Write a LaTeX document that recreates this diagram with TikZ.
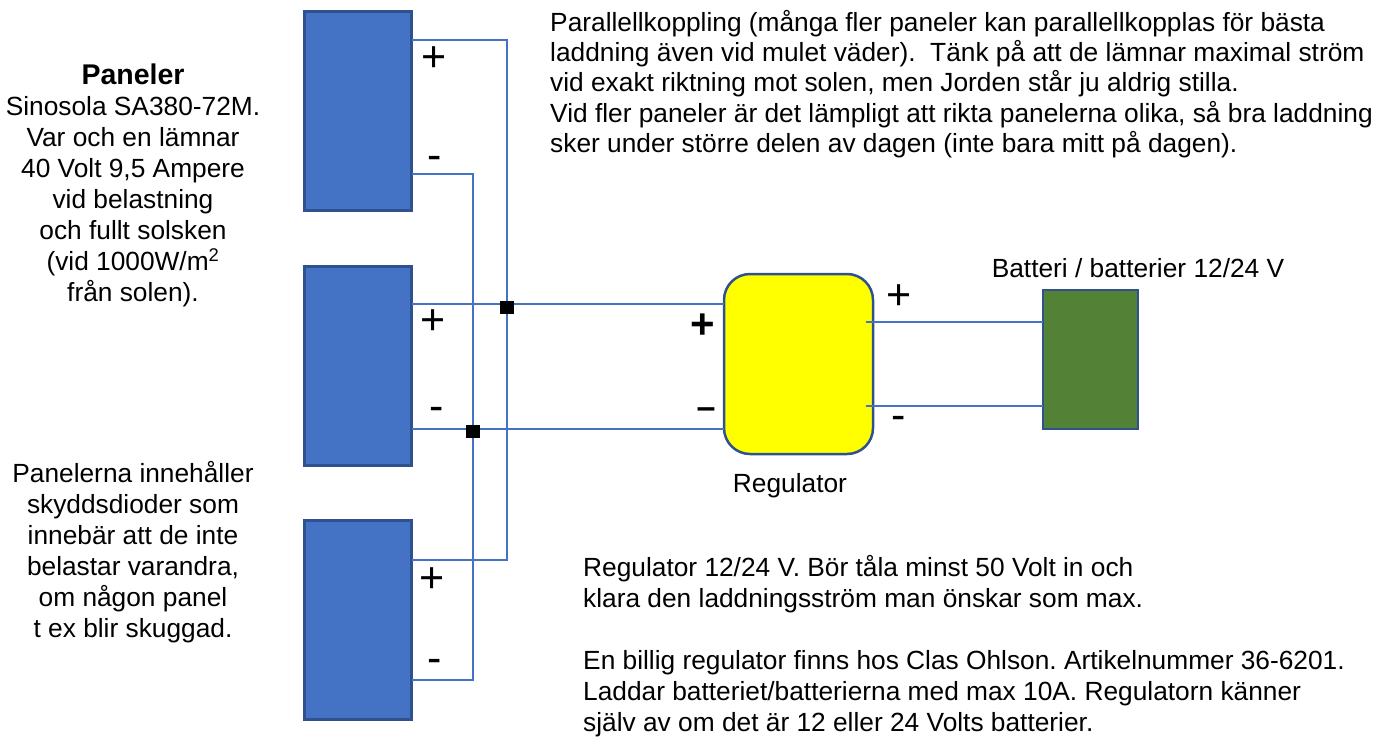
\documentclass[tikz,border=0pt]{standalone}
\usepackage{fontspec}
\setmainfont{Liberation Sans}
\usetikzlibrary{calc}
\definecolor{panelblue}{HTML}{4472C4}
\definecolor{edgeblue}{HTML}{2F528F}
\definecolor{battgreen}{HTML}{538135}
\definecolor{wireblue}{HTML}{4472C4}
\definecolor{regyellow}{HTML}{FFFF00}
\frenchspacing
\begin{document}
\begin{tikzpicture}[x=1pt,y=-1pt,
  panel/.style={draw=edgeblue,line width=2.5pt,fill=panelblue,minimum width=107pt,minimum height=199pt,inner sep=0pt,outer sep=0pt},
  regbox/.style={draw=edgeblue,line width=2.5pt,fill=regyellow,rounded corners=26pt,minimum width=149pt,minimum height=180pt,inner sep=0pt,outer sep=0pt},
  battbox/.style={draw=edgeblue,line width=2.5pt,fill=battgreen,minimum width=95pt,minimum height=139pt,inner sep=0pt,outer sep=0pt},
  wire/.style={draw=wireblue,line width=2pt},
  junc/.style={fill=black,minimum width=14pt,minimum height=13pt,inner sep=0pt},
  txt/.style={inner sep=0pt,font=\fontsize{26.3}{31}\selectfont},
  sign/.style={inner sep=0pt,font=\fontsize{43}{43}\selectfont},
  bsign/.style={inner sep=0pt,font=\fontsize{42}{42}\selectfont\bfseries},
]
\useasboundingbox (0,0) rectangle (1394,736);
% y levels
\coordinate (y40) at (0,40);
\coordinate (y174) at (0,174);
\coordinate (y304) at (0,304);
\coordinate (y429) at (0,429);
\coordinate (y560) at (0,560);
\coordinate (y680) at (0,680);
\coordinate (y322) at (0,322);
\coordinate (y406) at (0,406);
\coordinate (xp) at (507,0);
\coordinate (xm) at (473,0);
% panels
\node[panel] (p1) at (358,111) {};
\node[panel] (p2) at (358,366) {};
\node[panel] (p3) at (358,620) {};
% regulator and battery
\node[regbox] (reg) at (798.5,364) {};
\node[battbox] (bat) at (1090.5,359.5) {};
% wires
\draw[wire] (p1.east |- y40) -- (xp |- y40) -- (xp |- y560) -- (p3.east |- y560);
\draw[wire] (p1.east |- y174) -- (xm |- y174) -- (xm |- y680) -- (p3.east |- y680);
\draw[wire] (p2.east |- y304) -- (reg.west |- y304);
\draw[wire] (p2.east |- y429) -- (reg.west |- y429);
\draw[wire] ($(reg.east |- y322)+(-7,0)$) -- (bat.west |- y322);
\draw[wire] ($(reg.east |- y406)+(-7,0)$) -- (bat.west |- y406);
% junctions
\node[junc] (j1) at (507,307) {};
\node[junc] (j2) at (473,431) {};
% panel signs
\node[sign] (s1p) at (434,59) {+};
\node[sign] (s1m) at (435,163) {-};
\node[sign] (s2p) at (433,322) {+};
\node[sign] (s2m) at (437,414) {-};
\node[sign] (s3p) at (432,580) {+};
\node[sign] (s3m) at (435,666) {-};
% regulator signs
\node[bsign] (rip) at (703,326) {+};
\node[inner sep=0pt,font=\fontsize{34}{34}\selectfont\bfseries] (rim) at (706,413) {–};
\node[sign] (rop) at (899,297) {+};
\node[sign] (rom) at (899,423) {-};
% labels
\node[txt] (reglab) at (790,486) {Regulator};
\node[txt] (batlab) at (1138,268) {Batteri / batterier 12/24 V};
\node[txt,align=center] (paneltxt) at (133,185) {{\fontsize{28.5}{31}\selectfont\bfseries Paneler}\\Sinosola SA380-72M.\\Var och en lämnar\\40 Volt 9,5 Ampere\\vid belastning\\och fullt solsken\\(vid 1000W/m\textsuperscript{2}\\från solen).};
\node[txt,align=center] (diodtxt) at (133,552.5) {Panelerna innehåller\\skyddsdioder som\\innebär att de inte\\belastar varandra,\\om någon panel\\t ex blir skuggad.};
\node[txt,align=left,anchor=west,font=\fontsize{26.3}{30.3}\selectfont] (toptxt) at (550,84) {Parallellkoppling (många fler paneler kan parallellkopplas för bästa\\laddning även vid mulet väder).\ \ Tänk på att de lämnar maximal ström\\vid exakt riktning mot solen, men Jorden står ju aldrig stilla.\\Vid fler paneler är det lämpligt att rikta panelerna olika, så bra laddning\\sker under större delen av dagen (inte bara mitt på dagen).};
\node[txt,align=left,anchor=west] (regtxt) at (583,646) {Regulator 12/24 V. Bör tåla minst 50 Volt in och\\klara den laddningsström man önskar som max.\\[31pt]En billig regulator finns hos Clas Ohlson. Artikelnummer 36-6201.\\Laddar batteriet/batterierna med max 10A. Regulatorn känner\\själv av om det är 12 eller 24 Volts batterier.};
\end{tikzpicture}
\end{document}
